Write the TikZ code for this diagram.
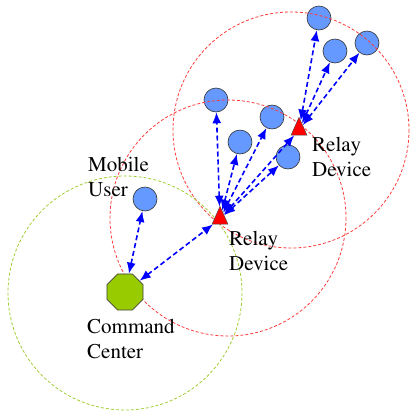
\documentclass[tikz,border=0pt]{standalone}
\usepackage[T1]{fontenc}
\renewcommand{\rmdefault}{ptm}
\usetikzlibrary{shapes.geometric,arrows.meta}
\definecolor{userblue}{RGB}{102,153,255}
\definecolor{rangered}{RGB}{255,60,60}
\definecolor{rangegreen}{RGB}{160,205,50}
\definecolor{ccgreen}{RGB}{153,204,0}
\tikzset{
  userdot/.style={circle, draw=black!80, fill=userblue, minimum size=24pt, inner sep=0pt, line width=0.6pt},
  relaybox/.style={isosceles triangle, isosceles triangle apex angle=48, shape border rotate=90,
                fill=red, draw=black!70, minimum size=16pt, inner sep=0pt, line width=0.4pt},
  commandbox/.style={regular polygon, regular polygon sides=8, fill=ccgreen, draw=black!75,
                  minimum size=39pt, inner sep=0pt, line width=0.7pt},
  coverage/.style={dash pattern=on 3pt off 2pt, line width=0.8pt},
  radiolink/.style={blue, line width=1.6pt, dash pattern=on 5pt off 3pt,
               {Latex[length=11pt,width=9pt]}-{Latex[length=11pt,width=9pt]}},
  lbl/.style={font=\rmfamily\fontsize{21}{25}\selectfont, align=left, inner sep=0pt, anchor=north west}
}
\begin{document}
\begin{tikzpicture}[x=1pt, y=-1pt]
  \useasboundingbox (0,0) rectangle (412,413);

  % mobile users
  \node[userdot] (mu) at (145,199) {};
  \node[userdot] (u1) at (216,100) {};
  \node[userdot] (u2) at (240,142) {};
  \node[userdot] (u3) at (272,117) {};
  \node[userdot] (u4) at (288,157) {};
  \node[userdot] (u5) at (319,18) {};
  \node[userdot] (u6) at (335,51) {};
  \node[userdot] (u7) at (367,43) {};

  % radio coverage areas
  \coordinate (rc1) at (228,218);
  \coordinate (rc2) at (291,130);
  \coordinate (rc0) at (125,293);
  \draw[coverage, rangered] (rc1) circle[radius=118];
  \draw[coverage, rangered] (rc2) circle[radius=118];
  \draw[coverage, rangegreen] (rc0) circle[radius=117];

  % command center and relays
  \node[commandbox] (cc) at (125,292) {};
  \node[relaybox] (r1) at (220,219) {};
  \node[relaybox] (r2) at (299,130) {};

  % links
  \draw[radiolink] (cc) -- (mu);
  \draw[radiolink] (cc) -- (r1);
  \draw[radiolink] (r1) -- (u1);
  \draw[radiolink] (r1) -- (u2);
  \draw[radiolink] (r1) -- (u3);
  \draw[radiolink] (r1) -- (r2);
  \draw[radiolink] (r1) -- (u4);
  \draw[radiolink] (r2) -- (u5);
  \draw[radiolink] (r2) -- (u6);
  \draw[radiolink] (r2) -- (u7);

  % labels
  \node[lbl] (tmu) at (88,157) {Mobile\\User};
  \node[lbl] (tr1) at (229,231) {Relay\\Device};
  \node[lbl] (tr2) at (312,137) {Relay\\Device};
  \node[lbl] (tcc) at (87,319) {Command\\Center};
\end{tikzpicture}
\end{document}
